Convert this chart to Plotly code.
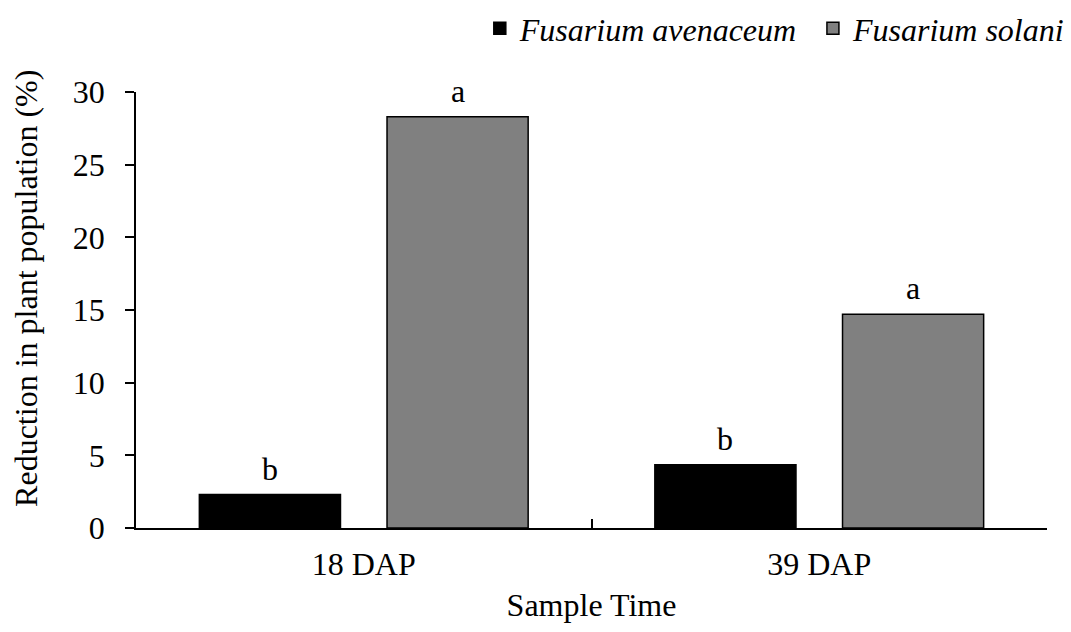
import plotly.graph_objects as go

categories = ["18 DAP", "39 DAP"]
series_names = ["Fusarium avenaceum", "Fusarium solani"]
avenaceum_vals = [2.3, 4.35]
solani_vals = [28.3, 14.7]
avenaceum_letters = ["b", "b"]
solani_letters = ["a", "a"]
y_ticks = [0, 5, 10, 15, 20, 25, 30]

FONT = "'Liberation Serif', 'Times New Roman', Times, 'DejaVu Serif', serif"
BARGAP = 0.176
BARGROUPGAP = 0.248

fig = go.Figure()
fig.add_trace(go.Bar(
    x=categories, y=avenaceum_vals, name="<i>" + series_names[0] + "</i>",
    marker=dict(color="#000000", line=dict(color="#000000", width=1.5)),
    legend="legend",
))
fig.add_trace(go.Bar(
    x=categories, y=solani_vals, name="<i>" + series_names[1] + "</i>",
    marker=dict(color="#808080", line=dict(color="#000000", width=1.5)),
    legend="legend2",
))

# letter annotations above bars, positioned through the category axis
slot = (1 - BARGAP) / 2
offsets = [-slot / 2, slot / 2]
annotations = []
for s, (vals, letters) in enumerate([(avenaceum_vals, avenaceum_letters), (solani_vals, solani_letters)]):
    for i, (v, t) in enumerate(zip(vals, letters)):
        annotations.append(dict(
            x=i + offsets[s], y=v, xref="x", yref="y", text=t, showarrow=False,
            yanchor="bottom", yshift=6, font=dict(family=FONT, size=32, color="#000000"),
        ))

annotations.append(dict(
    text="Reduction in plant population (%)", textangle=-90, showarrow=False,
    xref="paper", yref="paper", x=-0.12, y=0.55, xanchor="center", yanchor="middle",
    font=dict(family=FONT, size=32, color="#000000"),
))

legend_common = dict(
    orientation="h", xref="container", yref="container",
    y=0.955, yanchor="middle",
    font=dict(family=FONT, size=32, color="#000000"),
    itemwidth=30, bgcolor="rgba(0,0,0,0)",
)

fig.update_layout(
    width=1071, height=632,
    margin=dict(l=136, r=24, t=92, b=104, autoexpand=False),
    paper_bgcolor="white", plot_bgcolor="white",
    barmode="group", bargap=BARGAP, bargroupgap=BARGROUPGAP,
    font=dict(family=FONT, size=32, color="#000000"),
    showlegend=True,
    legend=dict(x=0.448, xanchor="left", **legend_common),
    legend2=dict(x=0.999, xanchor="right", **legend_common),
    annotations=annotations,
    xaxis=dict(
        type="category", showline=True, linecolor="#000000", linewidth=1.5,
        ticks="inside", tickson="boundaries", ticklen=9, tickcolor="#000000", tickwidth=1.5,
        showgrid=False, zeroline=False, automargin=False,
        tickfont=dict(family=FONT, size=32, color="#000000"),
        ticklabelstandoff=7,
        title=dict(text="Sample Time", standoff=12, font=dict(family=FONT, size=32, color="#000000")),
    ),
    yaxis=dict(
        range=[0, 30], tickvals=y_ticks, showline=True, linecolor="#000000", linewidth=1.5,
        ticks="outside", ticklen=9, tickcolor="#000000", tickwidth=1.5,
        showgrid=False, zeroline=False, automargin=False,
        tickfont=dict(family=FONT, size=32, color="#000000"),
        ticklabelstandoff=14,
    ),
)

fig.write_html("out.html")
